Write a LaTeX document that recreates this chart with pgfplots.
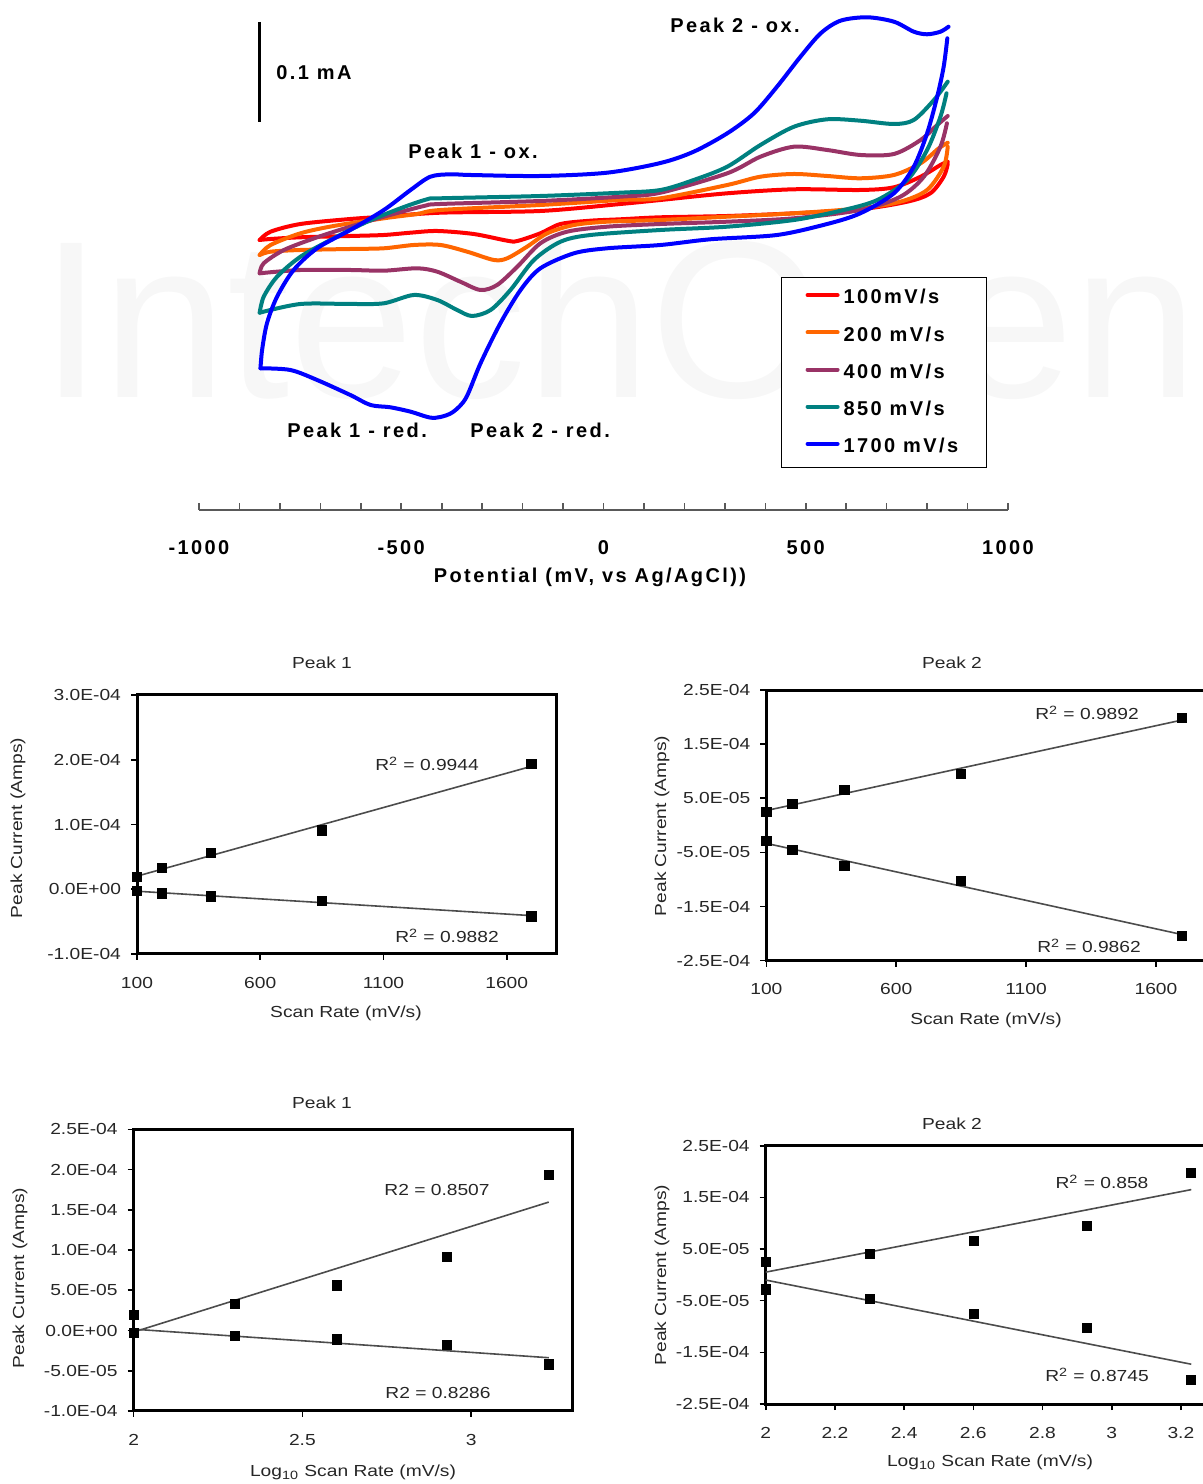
\documentclass[border=0pt]{standalone}
\usepackage{fontspec}
\setmainfont{Liberation Sans}
\newfontfamily\cvfont[LetterSpace=12]{Liberation Sans}
\newfontfamily\smallfont[FakeStretch=1.2]{Liberation Sans}
\usepackage{pgfplots}
\usepackage{pgfplotstable}
\pgfplotsset{compat=1.18}

\definecolor{cvred}{RGB}{255,0,0}
\definecolor{cvorange}{RGB}{255,102,0}
\definecolor{cvpurple}{RGB}{153,51,102}
\definecolor{cvteal}{RGB}{0,128,128}
\definecolor{cvblue}{RGB}{0,0,255}

\newcommand\cvlab{\cvfont\bfseries\fontsize{10}{12}\selectfont}
\newcommand\smlab{\smallfont\fontsize{8}{9.6}\selectfont}

% peak currents (A) against scan rate (mV/s)
\pgfplotstableread{
rate lograte ox1 red1 ox2 red2
100  2.000 1.95e-5 -0.3e-5  2.5e-5 -2.8e-5
200  2.301 3.3e-5  -0.65e-5 4.0e-5 -4.6e-5
400  2.602 5.6e-5  -1.1e-5  6.6e-5 -7.5e-5
850  2.929 9.1e-5  -1.75e-5 9.5e-5 -1.03e-4
1700 3.230 1.93e-4 -4.2e-5  1.98e-4 -2.04e-4
}\peakdata

\pgfplotsset{
  small/.style={
    scale only axis, clip=false,
    axis line style={line width=1.5pt, black},
    tick style={line width=0.8pt, black},
    tick align=outside, major tick length=3pt,
    xtick pos=bottom, ytick pos=left,
    scaled y ticks=false, scaled x ticks=false,
    ticklabel style={font=\smlab, text=black!85},
    yticklabel style={xshift=-1.5pt},
    xticklabel style={yshift=-5pt},
  },
  pts/.style={only marks, mark=square*, mark size=2.3pt, black},
  trend/.style={no marks, line width=0.8pt, black!70},
}

\begin{document}
\begin{tikzpicture}
\useasboundingbox (0,0) rectangle (601.5pt,742pt);

\begin{scope}[x=0.5pt,y=-0.5pt,shift={(0pt,742pt)}]
  \node[anchor=base west, inner sep=0pt, text=black!3,
        font=\fontsize{112}{112}\selectfont] at (40,398) {IntechOpen};
\end{scope}

% cyclic voltammograms, current in microamps
\begin{axis}[
  at={(99.5pt,487pt)}, anchor=south west,
  scale only axis, width=404.5pt, height=255pt,
  xmin=-1000, xmax=1000, ymin=-270, ymax=240,
  axis x line=bottom, axis y line=none,
  x axis line style={-, line width=1pt, black!65},
  xtick={-1000,-500,0,500,1000}, minor x tick num=4,
  xticklabels={-1000,-500,0,500,1000},
  tick align=inside, major tick length=3.5pt, minor tick length=3.5pt,
  tick style={black!65, line width=0.8pt},
  xticklabel style={font=\cvlab, yshift=-11.7pt},
  clip=false,
  every axis plot/.append style={line width=2pt, smooth, tension=0.5, line join=round, line cap=round},
  legend cell align=left,
  legend image code/.code={\draw[#1, sharp plot, line width=2pt] (0pt,1.5pt) -- (15pt,1.5pt);},
  legend style={at={(0.7194,0.457)}, anchor=north west, draw=black, line width=0.6pt,
    fill=white, font=\cvlab, inner xsep=12pt, inner ysep=1pt, row sep=0pt,
    nodes={inner xsep=2pt, inner ysep=0pt, minimum height=18.6pt}},
]
% 100 mV/s
\addplot[cvred] coordinates {
(-850,0) (-823,8.3) (-749,16) (-626,21) (-543,23.3) (-403,27.3) (-156,29)
(42,36) (141,40) (306,46.7) (471,50.7) (635,50) (718,52.7) (784,63.3)
(833,75) (851,78.3)};
\addlegendentry{100mV/s}
\addplot[cvred, forget plot] coordinates {
(851,76) (841,63.3) (808,46.7) (751,38.3) (635,30.7) (471,26.7) (306,24)
(141,22.7) (42,20.7) (-32,19.3) (-106,16) (-156,6.7) (-213,-1) (-238,-0.7)
(-321,6) (-411,9) (-477,7.3) (-543,5) (-626,4) (-749,2.7) (-823,1) (-850,0)};
% 200 mV/s
\addplot[cvorange] coordinates {
(-850,-15) (-823,-5) (-749,6.7) (-667,14) (-543,21.7) (-461,26) (-403,30)
(-156,35) (42,40) (141,41.7) (306,55) (388,63.3) (471,66) (553,64) (635,61.7)
(718,65) (784,76.7) (829,91.7) (851,97.3)};
\addlegendentry{200 mV/s}
\addplot[cvorange, forget plot] coordinates {
(851,93.3) (841,73.3) (800,50) (734,38.3) (635,31.7) (471,26.7) (306,23.3)
(141,20) (9,18.3) (-73,15) (-139,6.7) (-189,-6.7) (-238,-18.3) (-271,-20)
(-337,-11.7) (-403,-5) (-469,-5) (-543,-8.3) (-626,-9) (-749,-10) (-823,-11.7)
(-850,-15)};
% 400 mV/s
\addplot[cvpurple] coordinates {
(-850,-33.3) (-840,-23.3) (-790,-10) (-708,2.7) (-626,13.3) (-543,23.3)
(-444,34) (-403,36) (-156,39) (42,43.3) (141,47.3) (306,66.7) (388,83.3)
(471,93.3) (553,90) (635,85) (718,86) (784,100) (825,115) (851,124)};
\addlegendentry{400 mV/s}
\addplot[cvpurple, forget plot] coordinates {
(849,116.7) (833,93.3) (792,63.3) (734,43.3) (635,30) (471,21.7) (306,18.3)
(141,16) (9,13.3) (-90,8.3) (-156,-3.3) (-213,-26.7) (-263,-45) (-304,-50)
(-354,-41.7) (-411,-31.7) (-461,-28.3) (-543,-30.7) (-626,-30) (-749,-30)
(-850,-33.3)};
% 850 mV/s
\addplot[cvteal] coordinates {
(-850,-72.7) (-840,-56.7) (-807,-36.7) (-749,-16.7) (-667,1.7) (-584,18.3)
(-502,31.7) (-436,40.7) (-403,41.7) (-156,44) (42,47.3) (141,50) (223,60)
(306,73.3) (388,95) (471,113.3) (553,120.7) (635,119.3) (718,116) (767,120)
(817,140) (851,158.3)};
\addlegendentry{850 mV/s}
\addplot[cvteal, forget plot] coordinates {
(848,146.7) (833,123.3) (800,90) (751,60) (677,40) (594,30) (471,20) (306,13.3)
(141,10) (-32,5) (-106,-1.7) (-172,-20) (-230,-50) (-279,-70) (-325,-76)
(-362,-70) (-411,-60) (-469,-55) (-543,-63.3) (-626,-64) (-749,-64) (-850,-72.7)};
% 1700 mV/s
\addplot[cvblue] coordinates {
(-848,-128.3) (-844,-110) (-832,-83.3) (-807,-56.7) (-766,-30) (-708,-8.3)
(-626,10) (-543,30) (-477,50) (-428,63.3) (-378,65.7) (-329,65) (-156,64)
(9,67.3) (141,77) (223,88.3) (306,106.7) (372,126.7) (429,153.3) (487,183.3)
(537,206.7) (586,219.3) (652,222.7) (718,218.3) (767,208.3) (800,205.7)
(833,208.3) (853,213.3)};
\addlegendentry{1700 mV/s}
\addplot[cvblue, forget plot] coordinates {
(850,201.7) (841,173.3) (825,143.3) (800,106.7) (767,73.3) (718,46.7)
(635,26.7) (553,16) (429,5) (264,0.7) (141,-5) (9,-8.3) (-73,-13.3)
(-156,-28.3) (-205,-50) (-255,-83.3) (-304,-123.3) (-340,-158)
(-372,-172) (-403,-177) (-430,-177.5) (-477,-171.7) (-527,-167.3) (-576,-165)
(-626,-155) (-708,-140) (-774,-130) (-848,-128.3)};
% 0.1 mA scale bar
\draw[line width=1.5pt, black] (axis cs:-850,218) -- (axis cs:-850,118);
\end{axis}

% Peak 1, linear scan rate
\begin{axis}[small, at={(68.5pt,265pt)}, anchor=south west,
  width=209.5pt, height=129.5pt,
  xmin=100, xmax=1800, ymin=-1e-4, ymax=3e-4,
  xtick={100,600,1100,1600}, xticklabels={100,600,1100,1600},
  ytick={-1e-4,0,1e-4,2e-4,3e-4},
  yticklabels={-1.0E-04,0.0E+00,1.0E-04,2.0E-04,3.0E-04}]
\addplot[trend] table[x=rate, y={create col/linear regression={y=ox1}}] {\peakdata};
\addplot[trend] table[x=rate, y={create col/linear regression={y=red1}}] {\peakdata};
\addplot[pts] table[x=rate, y=ox1] {\peakdata};
\addplot[pts] table[x=rate, y=red1] {\peakdata};
\end{axis}

% Peak 2, linear scan rate
\begin{axis}[small, at={(383.2pt,261.65pt)}, anchor=south west,
  width=220.75pt, height=135.35pt,
  xmin=100, xmax=1800, ymin=-2.5e-4, ymax=2.5e-4,
  xtick={100,600,1100,1600}, xticklabels={100,600,1100,1600},
  ytick={-2.5e-4,-1.5e-4,-5e-5,5e-5,1.5e-4,2.5e-4},
  yticklabels={-2.5E-04,-1.5E-04,-5.0E-05,5.0E-05,1.5E-04,2.5E-04}]
\addplot[trend] table[x=rate, y={create col/linear regression={y=ox2}}] {\peakdata};
\addplot[trend] table[x=rate, y={create col/linear regression={y=red2}}] {\peakdata};
\addplot[pts] table[x=rate, y=ox2] {\peakdata};
\addplot[pts] table[x=rate, y=red2] {\peakdata};
\end{axis}

% Peak 1, log scan rate
\begin{axis}[small, at={(66.8pt,36.5pt)}, anchor=south west,
  width=219.4pt, height=140.85pt,
  xmin=2, xmax=3.3, ymin=-1e-4, ymax=2.5e-4,
  xtick={2,2.5,3}, xticklabels={2,2.5,3},
  ytick={-1e-4,-5e-5,0,5e-5,1e-4,1.5e-4,2e-4,2.5e-4},
  yticklabels={-1.0E-04,-5.0E-05,0.0E+00,5.0E-05,1.0E-04,1.5E-04,2.0E-04,2.5E-04}]
\addplot[trend] table[x=lograte, y={create col/linear regression={y=ox1}}] {\peakdata};
\addplot[trend] table[x=lograte, y={create col/linear regression={y=red1}}] {\peakdata};
\addplot[pts] table[x=lograte, y=ox1] {\peakdata};
\addplot[pts] table[x=lograte, y=red1] {\peakdata};
\end{axis}

% Peak 2, log scan rate
\begin{axis}[small, at={(382.85pt,40pt)}, anchor=south west,
  width=224.9pt, height=129.15pt,
  xmin=2, xmax=3.3, ymin=-2.5e-4, ymax=2.5e-4,
  xtick={2,2.2,2.4,2.6,2.8,3,3.2}, xticklabels={2,2.2,2.4,2.6,2.8,3,3.2},
  ytick={-2.5e-4,-1.5e-4,-5e-5,5e-5,1.5e-4,2.5e-4},
  yticklabels={-2.5E-04,-1.5E-04,-5.0E-05,5.0E-05,1.5E-04,2.5E-04}]
\addplot[trend] table[x=lograte, y={create col/linear regression={y=ox2}}] {\peakdata};
\addplot[trend] table[x=lograte, y={create col/linear regression={y=red2}}] {\peakdata};
\addplot[pts] table[x=lograte, y=ox2] {\peakdata};
\addplot[pts] table[x=lograte, y=red2] {\peakdata};
\end{axis}

\begin{scope}[x=0.5pt,y=-0.5pt,shift={(0pt,742pt)}]
  % annotations of the voltammograms
  \node[anchor=base west, inner sep=0pt, font=\cvlab] at (276,80) {0.1 mA};
  \node[anchor=base west, inner sep=0pt, font=\cvlab] at (670,33) {Peak 2 - ox.};
  \node[anchor=base west, inner sep=0pt, font=\cvlab] at (408,159) {Peak 1 - ox.};
  \node[anchor=base west, inner sep=0pt, font=\cvlab] at (287,438) {Peak 1 - red.};
  \node[anchor=base west, inner sep=0pt, font=\cvlab] at (470,438) {Peak 2 - red.};
  \node[anchor=base, inner sep=0pt, font=\cvlab] at (590,583) {Potential (mV, vs Ag/AgCl))};
  % titles and labels of the peak-current plots
  \begin{scope}[every node/.style={font=\smlab, text=black!85, inner sep=0pt}]
    \node at (322,663) {Peak 1};
    \node at (346,1013) {Scan Rate (mV/s)};
    \node[rotate=90] at (18,828) {Peak Current (Amps)};
    \node at (427,764) {R\textsuperscript{2} = 0.9944};
    \node at (447,936) {R\textsuperscript{2} = 0.9882};

    \node at (952,663) {Peak 2};
    \node at (986,1020) {Scan Rate (mV/s)};
    \node[rotate=90] at (662,826) {Peak Current (Amps)};
    \node at (1087,713) {R\textsuperscript{2} = 0.9892};
    \node at (1089,946) {R\textsuperscript{2} = 0.9862};

    \node at (322,1103) {Peak 1};
    \node at (353,1472) {Log\textsubscript{10} Scan Rate (mV/s)};
    \node[rotate=90] at (20,1278) {Peak Current (Amps)};
    \node at (437,1190) {R2 = 0.8507};
    \node at (438,1393) {R2 = 0.8286};

    \node at (952,1124) {Peak 2};
    \node at (990,1462) {Log\textsubscript{10} Scan Rate (mV/s)};
    \node[rotate=90] at (662,1275) {Peak Current (Amps)};
    \node at (1102,1182) {R\textsuperscript{2} = 0.858};
    \node at (1097,1375) {R\textsuperscript{2} = 0.8745};
  \end{scope}
\end{scope}
\end{tikzpicture}
\end{document}
